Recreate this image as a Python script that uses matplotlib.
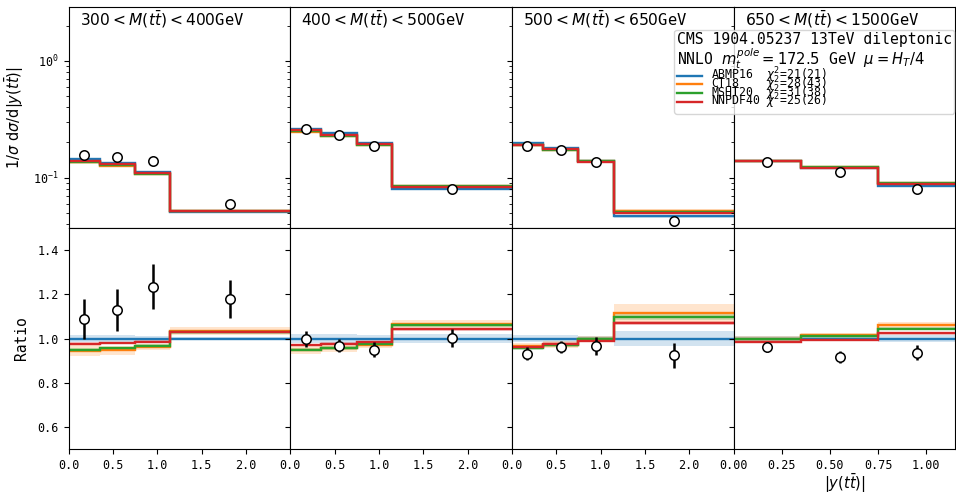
import numpy as np
import matplotlib
matplotlib.use("Agg")
import matplotlib.pyplot as plt
from matplotlib.lines import Line2D

plt.rcParams['font.family'] = ['DejaVu Sans Mono', 'DejaVu Sans']

# ---------------- data ----------------
mass_titles = [r"$300 < M(t\bar{t}) < 400$GeV",
               r"$400 < M(t\bar{t}) < 500$GeV",
               r"$500 < M(t\bar{t}) < 650$GeV",
               r"$650 < M(t\bar{t}) < 1500$GeV"]

edges_low_mass = [0.0, 0.35, 0.75, 1.15, 2.5]
edges_high_mass = [0.0, 0.35, 0.75, 1.15]

pdf_names = ["ABMP16", "CT18", "MSHT20", "NNPDF40"]
pdf_chi2 = [21, 28, 31, 25]
pdf_chi2_ndf = [21, 43, 38, 26]
pdf_colors = ["#1f77b4", "#ff7f0e", "#2ca02c", "#d62728"]

# ABMP16 absolute prediction (reference for ratio)
abmp16_xsec = [[0.143, 0.134, 0.112, 0.0505],
               [0.262, 0.239, 0.197, 0.0795],
               [0.198, 0.179, 0.138, 0.0465],
               [0.140, 0.122, 0.0855]]

# measured data
data_xsec = [[0.157, 0.150, 0.138, 0.060],
             [0.260, 0.233, 0.188, 0.0796],
             [0.186, 0.171, 0.135, 0.0428],
             [0.136, 0.111, 0.0796]]
data_ratio = [[1.090, 1.128, 1.235, 1.180],
              [0.997, 0.968, 0.950, 1.001],
              [0.932, 0.962, 0.965, 0.924],
              [0.962, 0.917, 0.936]]
data_ratio_err = [[0.090, 0.095, 0.100, 0.085],
                  [0.035, 0.030, 0.035, 0.040],
                  [0.030, 0.028, 0.040, 0.057],
                  [0.024, 0.028, 0.034]]

# theory / ABMP16
ratio_abmp16 = [[1.0, 1.0, 1.0, 1.0], [1.0, 1.0, 1.0, 1.0],
                [1.0, 1.0, 1.0, 1.0], [1.0, 1.0, 1.0]]
ratio_ct18 = [[0.944, 0.947, 0.962, 1.033],
              [0.948, 0.955, 0.970, 1.065],
              [0.966, 0.972, 0.997, 1.114],
              [1.000, 1.015, 1.060]]
ratio_msht20 = [[0.947, 0.955, 0.968, 1.028],
                [0.950, 0.957, 0.973, 1.059],
                [0.957, 0.970, 0.997, 1.098],
                [0.997, 1.010, 1.045]]
ratio_nnpdf40 = [[0.977, 0.980, 0.986, 1.030],
                 [0.971, 0.977, 0.982, 1.042],
                 [0.962, 0.977, 0.989, 1.071],
                 [0.985, 0.992, 1.023]]

# uncertainty half-widths on the ratio
band_abmp16 = [[0.018, 0.015, 0.012, 0.008],
               [0.020, 0.020, 0.015, 0.020],
               [0.015, 0.015, 0.012, 0.032],
               [0.012, 0.012, 0.015]]
band_ct18 = [[0.025, 0.020, 0.015, 0.018],
             [0.020, 0.018, 0.015, 0.020],
             [0.015, 0.015, 0.015, 0.040],
             [0.010, 0.010, 0.015]]
band_msht20 = [[0.008, 0.008, 0.008, 0.008],
               [0.008, 0.008, 0.008, 0.008],
               [0.008, 0.008, 0.008, 0.015],
               [0.006, 0.006, 0.008]]
band_nnpdf40 = [[0.006, 0.006, 0.006, 0.006],
                [0.006, 0.006, 0.006, 0.006],
                [0.006, 0.006, 0.006, 0.008],
                [0.005, 0.005, 0.006]]

ratios = [ratio_abmp16, ratio_ct18, ratio_msht20, ratio_nnpdf40]
bands = [band_abmp16, band_ct18, band_msht20, band_nnpdf40]

# ---------------- figure ----------------
W_PX, H_PX = 956, 492
fig = plt.figure(figsize=(W_PX / 100, H_PX / 100), dpi=100)

left = 68.5 / W_PX
pw = 221.7 / W_PX
ph = 221 / H_PX
top_bottom = 1 - 228 / H_PX
bot_bottom = 1 - 449 / H_PX

tick_fs = 8.5
axes_top, axes_bot = [], []
for i in range(4):
    edges = edges_low_mass if i < 3 else edges_high_mass
    edges = np.array(edges)
    axt = fig.add_axes([left + i * pw, top_bottom, pw, ph])
    axb = fig.add_axes([left + i * pw, bot_bottom, pw, ph])
    axes_top.append(axt)
    axes_bot.append(axb)
    ref = np.array(abmp16_xsec[i])
    for k in range(4):
        r = np.array(ratios[k][i])
        b = np.array(bands[k][i])
        col = pdf_colors[k]
        axb.stairs(r + b, edges, baseline=r - b, fill=True, color=col,
                   alpha=0.2, linewidth=0)
        axt.stairs(ref * (r + b), edges, baseline=ref * (r - b), fill=True,
                   color=col, alpha=0.2, linewidth=0)
    for k in range(4):
        r = np.array(ratios[k][i])
        col = pdf_colors[k]
        axb.stairs(r, edges, baseline=None, color=col, linewidth=1.7)
        axt.stairs(ref * r, edges, baseline=None, color=col, linewidth=1.7)
    centers = 0.5 * (edges[:-1] + edges[1:])
    axt.plot(centers, data_xsec[i], 'o', mfc='white', mec='black',
             mew=1.1, ms=6.8, zorder=10)
    axb.errorbar(centers, data_ratio[i], yerr=data_ratio_err[i], fmt='o',
                 mfc='white', mec='black', mew=1.1, ms=6.8, color='black',
                 elinewidth=1.8, capsize=0, zorder=10)

    axt.set_yscale('log')
    axt.set_ylim(0.037, 2.9)
    axb.set_ylim(0.5, 1.5)
    for ax in (axt, axb):
        ax.set_xlim(edges[0], edges[-1])
        ax.tick_params(labelsize=tick_fs)
    axt.tick_params(axis='x', which='both', bottom=False, labelbottom=False)
    if i < 3:
        axb.set_xticks([0.0, 0.5, 1.0, 1.5, 2.0])
        axb.set_xticklabels(["0.0", "0.5", "1.0", "1.5", "2.0"])
    else:
        axb.set_xticks([0.0, 0.25, 0.5, 0.75, 1.0])
        axb.set_xticklabels(["0.00", "0.25", "0.50", "0.75", "1.00"])
    axb.set_yticks([0.6, 0.8, 1.0, 1.2, 1.4])
    if i > 0:
        axt.tick_params(axis='y', which='both', labelleft=False)
        axb.tick_params(axis='y', which='both', labelleft=False)
    axt.text(0.05, 0.99, mass_titles[i], transform=axt.transAxes,
             ha='left', va='top', fontsize=11.2)

axes_top[0].set_ylabel(r"$1/\sigma\ \mathrm{d}\sigma/\mathrm{d}|y(t\bar{t})|$",
                       fontsize=10.5, labelpad=5)
axes_bot[0].set_ylabel("Ratio", fontsize=10.5, labelpad=6)
axes_bot[3].set_xlabel(r"$|y(t\bar{t})|$", fontsize=10.5, labelpad=0)

handles = [Line2D([], [], color=c, lw=1.7) for c in pdf_colors]
labels = [f"{n:<8s}" + r"$\chi^2$" + f"={c}({d})"
          for n, c, d in zip(pdf_names, pdf_chi2, pdf_chi2_ndf)]
leg_title = ("CMS 1904.05237 13TeV dileptonic\n"
             r"NNLO $m_t^{pole}=172.5$ GeV $\mu=H_T/4$")
leg = fig.legend(handles, labels, loc='upper right',
                 bbox_to_anchor=(954 / W_PX, 1 - 30 / H_PX),
                 fontsize=8.3, title=leg_title, title_fontsize=10.6,
                 labelspacing=-0.95, handlelength=2.2, handletextpad=0.8,
                 borderpad=0.2, borderaxespad=0, framealpha=0.8,
                 alignment='left')
leg.get_title().set_linespacing(0.95)
leg._legend_box.sep = -3.8

fig.savefig("out.png", dpi=100)
